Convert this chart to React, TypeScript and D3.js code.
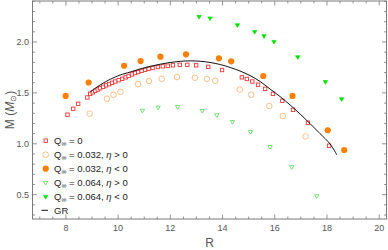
import React from 'react'
import * as d3 from 'd3'

// Q = 0 (open squares)
const rQ0 = [8.06, 8.28, 8.47, 8.82, 8.93, 9.03, 9.12, 9.22, 9.31, 9.43, 9.54, 9.66, 9.77, 9.89, 10.02, 10.16, 10.29, 10.4, 10.53, 10.65, 10.77, 10.9, 11.04, 11.17, 11.32, 11.52, 11.71, 11.9, 12.1, 12.36, 12.65, 12.99, 13.45, 13.98, 14.74, 14.93, 15.14, 15.36, 15.63, 15.93, 16.29, 16.7, 17.27, 18.08]
const mQ0 = [1.286, 1.344, 1.393, 1.455, 1.492, 1.506, 1.521, 1.533, 1.546, 1.56, 1.574, 1.586, 1.599, 1.612, 1.625, 1.639, 1.653, 1.666, 1.681, 1.695, 1.705, 1.717, 1.727, 1.737, 1.745, 1.754, 1.761, 1.767, 1.771, 1.776, 1.776, 1.771, 1.756, 1.725, 1.653, 1.637, 1.612, 1.58, 1.54, 1.491, 1.422, 1.334, 1.207, 0.981]

// Q = 0.032, eta > 0 (open circles)
const rQ1p = [8.91, 9.57, 9.82, 10.09, 10.76, 11.18, 11.67, 12.25, 12.94, 13.4, 13.72, 14.66, 15.1, 15.79, 16.31, 17.18]
const mQ1p = [1.296, 1.443, 1.481, 1.511, 1.585, 1.617, 1.639, 1.656, 1.649, 1.637, 1.619, 1.533, 1.483, 1.371, 1.273, 1.072]

// Q = 0.032, eta < 0 (filled circles)
const rQ1n = [7.99, 8.87, 10.23, 10.86, 11.62, 12.6, 13.86, 14.33, 15.56, 16.68, 18.03, 18.66]
const mQ1n = [1.47, 1.602, 1.767, 1.813, 1.856, 1.879, 1.84, 1.81, 1.666, 1.47, 1.133, 0.939]

// Q = 0.064, eta > 0 (open triangles)
const rQ2p = [10.93, 11.53, 12.28, 13.22, 13.78, 14.38, 15.07, 15.82, 16.65, 17.61]
const mQ2p = [1.327, 1.357, 1.363, 1.325, 1.283, 1.216, 1.118, 0.971, 0.772, 0.487]

// Q = 0.064, eta < 0 (filled triangles)
const rQ2n = [13.1, 13.52, 14.57, 15.23, 15.59, 15.97, 16.88, 17.94, 18.56]
const mQ2n = [2.249, 2.234, 2.167, 2.101, 2.059, 2.003, 1.853, 1.609, 1.44]

// GR curve
const rGR = [8.93, 9.12, 9.31, 9.5, 9.7, 9.89, 10.08, 10.46, 10.84, 11.23, 11.61, 11.99, 12.38, 12.76, 13.14, 13.52, 13.91, 14.29, 14.67, 15.05, 15.44, 15.82, 16.2, 16.59, 16.97, 17.35, 17.73, 18.12, 18.38]
const mGR = [1.509, 1.545, 1.578, 1.607, 1.634, 1.656, 1.676, 1.705, 1.735, 1.761, 1.782, 1.799, 1.81, 1.815, 1.811, 1.799, 1.779, 1.75, 1.715, 1.671, 1.612, 1.538, 1.465, 1.381, 1.293, 1.199, 1.101, 0.998, 0.89]

const xTicks = [8, 10, 12, 14, 16, 18, 20]
const yTicks = [0.5, 1.0, 1.5, 2.0]
const legendLabels = [
  ['0', ''],
  ['0.032, ', '> 0'],
  ['0.032, ', '< 0'],
  ['0.064, ', '> 0'],
  ['0.064, ', '< 0'],
]

const W = 388
const H = 250
const left = 32.5
const right = 386.5
const top = 1
const bottom = 219

const RED = '#ee3535'
const ORANGE_LIGHT = '#ffb878'
const ORANGE = '#ff7f00'
const GREEN_LIGHT = '#66e066'
const GREEN = '#00e000'
const AXIS = '#7a7a7a'
const TEXT = '#555'

const zip = (a: number[], b: number[]) => a.map((v, i) => [v, b[i]] as [number, number])

const triPath = 'M-2.2,-1.3L2.2,-1.3L0,2.4Z'

export default function App() {
  const x = d3.scaleLinear().domain([6.72, 20.28]).range([left, right])
  const y = d3.scaleLinear().domain([0.261, 2.403]).range([bottom, top])

  const xMinor = d3.range(7, 20.01, 0.5).filter((v) => Math.abs(v % 2) > 1e-6)
  const yMinor = d3.range(0.3, 2.401, 0.1).filter((v) => Math.abs((v * 10) % 5) > 1e-6)

  const line = d3
    .line<[number, number]>()
    .x((d) => x(d[0]))
    .y((d) => y(d[1]))
    .curve(d3.curveCatmullRom)

  const marker = (kind: number, cx: number, cy: number, key: string) => {
    if (kind === 0)
      return <rect key={key} x={cx - 1.7} y={cy - 1.7} width={3.4} height={3.4} fill="white" stroke={RED} strokeWidth={0.9} />
    if (kind === 1)
      return <circle key={key} cx={cx} cy={cy} r={2.8} fill="white" stroke={ORANGE_LIGHT} strokeWidth={0.9} />
    if (kind === 2) return <circle key={key} cx={cx} cy={cy} r={3.1} fill={ORANGE} />
    if (kind === 3)
      return <path key={key} d={triPath} transform={`translate(${cx},${cy})`} fill="white" stroke={GREEN_LIGHT} strokeWidth={0.9} />
    return <path key={key} d={triPath} transform={`translate(${cx},${cy})`} fill={GREEN} stroke={GREEN} strokeWidth={0.6} />
  }

  const series = [zip(rQ0, mQ0), zip(rQ1p, mQ1p), zip(rQ1n, mQ1n), zip(rQ2p, mQ2p), zip(rQ2n, mQ2n)]
  const legendY = [140.7, 154.7, 168.7, 182.7, 196.7]

  return (
    <svg width={W} height={H} style={{ position: 'absolute', left: 0, top: 0, background: 'white' }} fontFamily="Liberation Sans, Arial, sans-serif">
      {/* frame */}
      <rect x={left} y={top} width={right - left} height={bottom - top} fill="none" stroke={AXIS} strokeWidth={1} />

      {/* ticks */}
      <g stroke={AXIS} strokeWidth={0.8}>
        {xTicks.map((t) => (
          <g key={'xt' + t}>
            <line x1={x(t)} x2={x(t)} y1={bottom} y2={bottom - 4.5} />
            <line x1={x(t)} x2={x(t)} y1={top} y2={top + 4.5} />
          </g>
        ))}
        {xMinor.map((t) => (
          <g key={'xm' + t}>
            <line x1={x(t)} x2={x(t)} y1={bottom} y2={bottom - 2.5} />
            <line x1={x(t)} x2={x(t)} y1={top} y2={top + 2.5} />
          </g>
        ))}
        {yTicks.map((t) => (
          <g key={'yt' + t}>
            <line x1={left} x2={left + 4.5} y1={y(t)} y2={y(t)} />
            <line x1={right} x2={right - 4.5} y1={y(t)} y2={y(t)} />
          </g>
        ))}
        {yMinor.map((t) => (
          <g key={'ym' + t}>
            <line x1={left} x2={left + 2.5} y1={y(t)} y2={y(t)} />
            <line x1={right} x2={right - 2.5} y1={y(t)} y2={y(t)} />
          </g>
        ))}
      </g>

      {/* tick labels */}
      <g fill={TEXT} fontSize={9}>
        {xTicks.map((t) => (
          <text key={'xl' + t} x={x(t)} y={230.5} textAnchor="middle">
            {t}
          </text>
        ))}
        {yTicks.map((t) => (
          <text key={'yl' + t} x={29} y={y(t) + 3.2} textAnchor="end">
            {t.toFixed(1)}
          </text>
        ))}
      </g>

      {/* axis labels */}
      <text x={(left + right) / 2} y={246.5} textAnchor="middle" fontSize={12} fill={TEXT}>
        R
      </text>
      <text transform={`translate(13.5,${(top + bottom) / 2}) rotate(-90)`} textAnchor="middle" fontSize={12} fill={TEXT}>
        M (<tspan fontStyle="italic">M</tspan>
        <tspan fontSize={8} dy={2.5}>⊙</tspan>
        <tspan dy={-2.5}>)</tspan>
      </text>

      {/* data */}
      {series.map((s, k) => s.map((d, i) => marker(k, x(d[0]), y(d[1]), `m${k}-${i}`)))}
      <path d={line(zip(rGR, mGR)) || ''} fill="none" stroke="#111" strokeWidth={1} />

      {/* legend */}
      <g fontSize={9.5} fill="#222">
        {legendLabels.map((l, k) => (
          <g key={'lg' + k}>
            {marker(k, 45.7, legendY[k], 'lm' + k)}
            <text x={54} y={legendY[k] + 3.4}>
              Q<tspan fontSize={7} dy={2}>∞</tspan>
              <tspan dy={-2}>{' = ' + l[0]}</tspan>
              {l[1] && <tspan fontStyle="italic">η</tspan>}
              {l[1] && <tspan>{' ' + l[1]}</tspan>}
            </text>
          </g>
        ))}
        <line x1={41.5} x2={48} y1={210.3} y2={210.3} stroke="#111" strokeWidth={1} />
        <text x={54} y={213.7}>
          GR
        </text>
      </g>
    </svg>
  )
}
